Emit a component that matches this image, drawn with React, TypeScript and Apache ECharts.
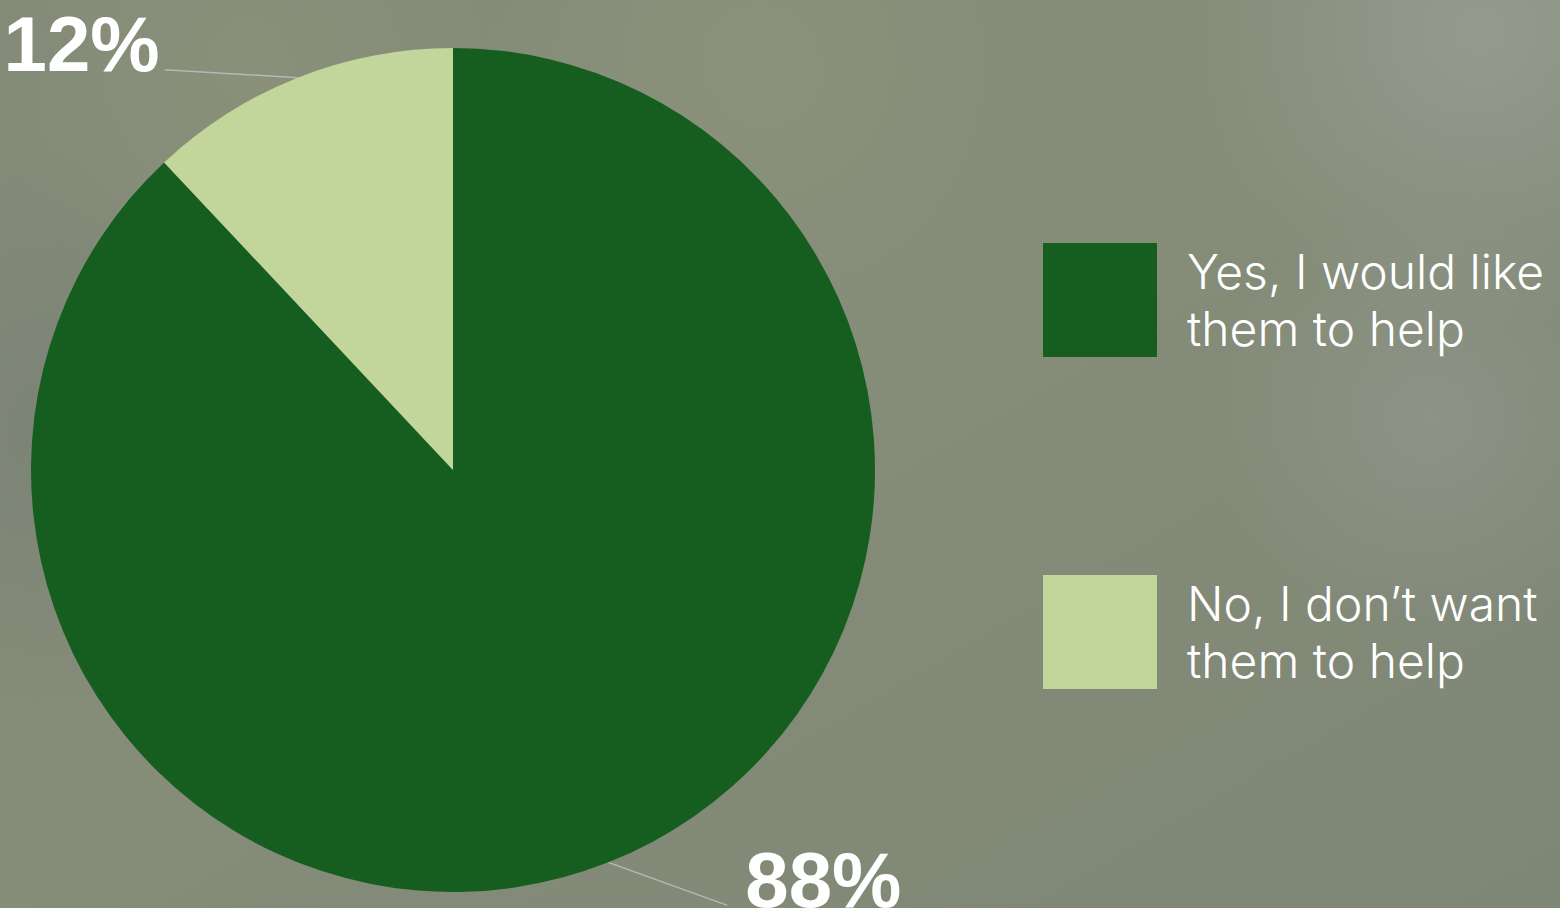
import React, { useEffect, useRef } from "react";
import * as echarts from "echarts";

const categories = ["Yes, I would like them to help", "No, I don’t want them to help"];
const legendLines = [
  ["Yes, I would like", "them to help"],
  ["No, I don’t want", "them to help"],
];
const values = [88, 12];
const colors = ["#165e20", "#c2d59a"];

export default function App() {
  const ref = useRef<HTMLDivElement>(null);
  useEffect(() => {
    if (!ref.current) return;
    const chart = echarts.init(ref.current, undefined, { renderer: "svg" });
    const CX = 453;
    const CY = 470;
    const blob = (cx: number, cy: number, r: number, rgb: string, a: number) => ({
      type: "circle",
      silent: true,
      z: -10,
      shape: { cx, cy, r },
      style: {
        fill: new echarts.graphic.RadialGradient(0.5, 0.5, 0.5, [
          { offset: 0, color: `rgba(${rgb},${a})` },
          { offset: 1, color: `rgba(${rgb},0)` },
        ]),
      },
    });
    chart.setOption({
      animation: false,
      backgroundColor: new echarts.graphic.LinearGradient(0, 0, 1, 1, [
        { offset: 0, color: "#838a78" },
        { offset: 0.5, color: "#858c78" },
        { offset: 1, color: "#7e8676" },
      ]),
      graphic: [
        blob(1480, 30, 300, "152,158,148", 0.8),
        blob(1430, 420, 220, "148,154,144", 0.6),
        blob(60, 430, 280, "120,128,118", 0.7),
        blob(250, 60, 260, "142,148,122", 0.6),
        blob(760, 60, 280, "145,152,125", 0.6),
      ],
      legend: {
        orient: "vertical",
        left: 1043,
        top: 235,
        padding: 0,
        itemWidth: 114,
        itemHeight: 114,
        itemGap: 202,
        icon: "rect",
        data: categories,
        formatter: (name: string) => legendLines[categories.indexOf(name)].join("\n"),
        textStyle: {
          color: "#ffffff",
          fontFamily: "Inter, sans-serif",
          fontWeight: 300,
          fontSize: 48,
          lineHeight: 57,
          padding: [0, 0, 16, 25],
        },
      },
      series: [
        {
          type: "pie",
          center: [CX, CY],
          radius: 422,
          startAngle: 90,
          clockwise: true,
          data: categories.map((name, i) => ({
            name,
            value: values[i],
            itemStyle: { color: colors[i] },
          })),
          label: {
            show: true,
            position: "outside",
            formatter: "{c}%",
            color: "#ffffff",
            fontFamily: "'Liberation Sans', Arial, sans-serif",
            fontWeight: "bold",
            fontSize: 78,
          },
          labelLine: {
            show: true,
            length: 0,
            length2: 0,
            lineStyle: { color: "#b4b8b6", width: 1.5 },
          },
          labelLayout: (params: any) => {
            const pts = params.labelLinePoints;
            if (!pts) return {};
            const s = pts[0];
            if (s[0] < CX) {
              return {
                x: s[0] - 138,
                y: s[1] - 34,
                align: "right",
                verticalAlign: "middle",
                labelLinePoints: [s, [s[0] - 133, s[1] - 8], [s[0] - 133, s[1] - 8]],
              };
            }
            return {
              x: s[0] + 137,
              y: s[1] + 18,
              align: "left",
              verticalAlign: "middle",
              labelLinePoints: [s, [s[0] + 119, s[1] + 43], [s[0] + 119, s[1] + 43]],
            };
          },
        },
      ],
    });
    return () => chart.dispose();
  }, []);
  return (
    <div
      ref={ref}
      style={{ position: "fixed", left: 0, top: 0, width: 1560, height: 908 }}
    />
  );
}
